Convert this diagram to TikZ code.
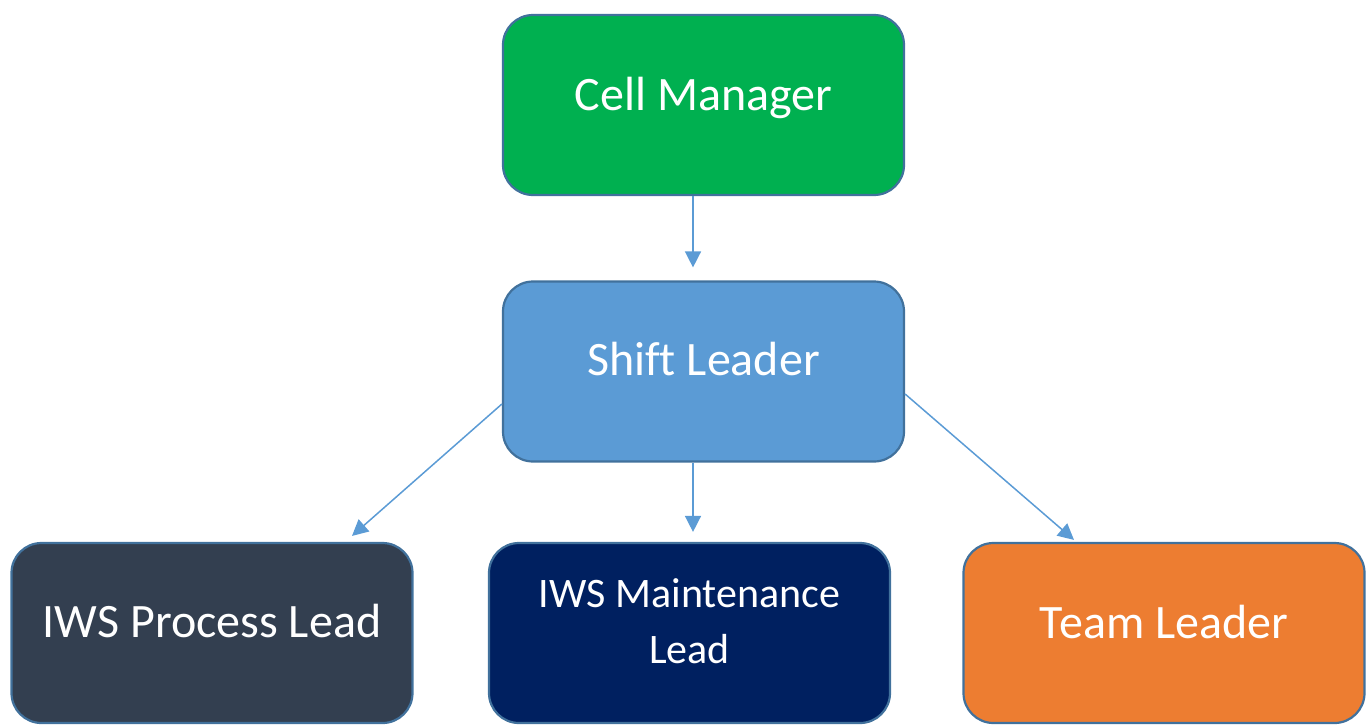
\documentclass[tikz,border=0pt]{standalone}
\usepackage{fontspec}
\setmainfont{Carlito}[Ligatures={NoCommon}]
\usetikzlibrary{arrows.meta}
\definecolor{edge}{HTML}{41719C}
\definecolor{link}{HTML}{5B9BD5}
\definecolor{cgreen}{HTML}{00B050}
\definecolor{cblue}{HTML}{5B9BD5}
\definecolor{cslate}{HTML}{333F50}
\definecolor{cnavy}{HTML}{002060}
\definecolor{corange}{HTML}{ED7D31}
\tikzset{
  box/.style={draw=edge, line width=2.2pt, rounded corners=30pt,
    minimum width=401pt, minimum height=180pt, inner sep=0pt},
  lbl/.style={text=white, anchor=base, inner sep=0pt,
    font=\fontsize{48}{56}\selectfont},
  lblsmall/.style={text=white, anchor=base, inner sep=0pt, align=center,
    font=\fontsize{42}{56}\selectfont},
  arr/.style={draw=link, line width=1.5pt,
    -{Triangle[length=16pt,width=16pt]}}
}
\begin{document}
\begin{tikzpicture}[x=1pt,y=-1pt]
  \useasboundingbox (0,0) rectangle (1366,724);

  % boxes
  \node[box, fill=cgreen]  (cm)  at (703.5,105)  {};
  \node[box, fill=cblue]   (sl)  at (703.5,371.5) {};
  \node[box, fill=cslate]  (ipl) at (212,633)    {};
  \node[box, fill=cnavy]   (iml) at (689.5,633)  {};
  \node[box, fill=corange] (tl)  at (1164,633)   {};

  % labels
  \node[lbl] (cmt)  at ([yshift=-5pt]cm.center)  {Cell Manager};
  \node[lbl] (slt)  at ([yshift=-3.5pt]sl.center) {Shift Leader};
  \node[lbl] (iplt) at ([yshift=-4pt]ipl.center) {IWS Process Lead};
  \node[lblsmall] (imlt) at ([yshift=-30pt]iml.center) {IWS Maintenance\\Lead};
  \node[lbl] (tlt)  at ([yshift=-5pt]tl.center)  {Team Leader};

  % reporting lines
  \draw[arr] ([xshift=-10.5pt]cm.south) -- ([xshift=-10.5pt,yshift=13pt]sl.north);
  \draw[arr] ([yshift=-32.5pt]sl.west) -- ([xshift=140pt,yshift=6pt]ipl.north);
  \draw[arr] ([xshift=-10.5pt]sl.south) -- ([xshift=3.5pt,yshift=10pt]iml.north);
  \draw[arr] ([yshift=-22.5pt]sl.east) -- ([xshift=-90pt,yshift=2pt]tl.north);
\end{tikzpicture}
\end{document}
